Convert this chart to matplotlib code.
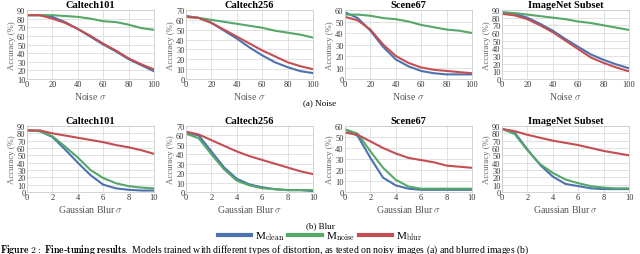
import numpy as np
import matplotlib
matplotlib.use("Agg")
import matplotlib.pyplot as plt

plt.rcParams['font.family'] = ['Liberation Serif', 'DejaVu Serif']
plt.rcParams['mathtext.fontset'] = 'cm'

noise_x = [0, 10, 20, 30, 40, 50, 60, 70, 80, 90, 100]
blur_x = [0, 1, 2, 3, 4, 5, 6, 7, 8, 9, 10]

datasets = ["Caltech101", "Caltech256", "Scene67", "ImageNet Subset"]

# noise experiments: (clean, noise, blur)
noise_clean = {
    "Caltech101": [84, 84, 82, 76, 68, 59, 50, 42, 33, 26, 19],
    "Caltech256": [64, 62, 57, 49, 41, 32, 24, 17, 12, 8, 6],
    "Scene67": [58, 53, 42, 28, 17, 11, 7, 5, 4, 4, 4],
    "ImageNet Subset": [87, 85, 80, 72, 63, 52, 42, 32, 25, 19, 14],
}
noise_noise = {
    "Caltech101": [84, 84, 84, 83, 82, 80, 77, 76, 73, 69, 67],
    "Caltech256": [63, 62, 60, 58, 56, 54, 52, 49, 47, 45, 42],
    "Scene67": [56, 56, 55, 53, 52, 50, 47, 45, 43, 42, 40],
    "ImageNet Subset": [87, 86, 84, 82, 80, 78, 75, 73, 70, 67, 64],
}
noise_blur = {
    "Caltech101": [84, 84, 80, 75, 68, 60, 51, 43, 34, 27, 21],
    "Caltech256": [63, 62, 57, 50, 43, 36, 29, 23, 17, 13, 10],
    "Scene67": [54, 51, 43, 30, 20, 14, 10, 8, 7, 6, 5],
    "ImageNet Subset": [85, 83, 78, 70, 61, 50, 39, 28, 21, 15, 10],
}

# blur experiments
blur_clean = {
    "Caltech101": [84, 83, 75, 58, 40, 23, 10, 5, 3, 2, 2],
    "Caltech256": [63, 60, 43, 26, 14, 8, 5, 3, 2, 2, 1],
    "Scene67": [57, 51, 31, 13, 6, 3, 2, 2, 2, 2, 2],
    "ImageNet Subset": [86, 81, 58, 37, 21, 11, 8, 5, 4, 4, 4],
}
blur_noise = {
    "Caltech101": [84, 83, 76, 62, 47, 30, 19, 12, 8, 6, 5],
    "Caltech256": [62, 57, 40, 24, 12, 7, 4, 3, 2, 2, 2],
    "Scene67": [57, 53, 37, 22, 11, 5, 3, 3, 3, 3, 3],
    "ImageNet Subset": [86, 79, 57, 38, 26, 17, 12, 8, 6, 5, 5],
}
blur_blur = {
    "Caltech101": [84, 84, 80, 77, 74, 71, 68, 64, 61, 57, 52],
    "Caltech256": [64, 61, 55, 49, 43, 38, 34, 30, 26, 22, 19],
    "Scene67": [54, 52, 46, 40, 35, 31, 29, 27, 24, 23, 22],
    "ImageNet Subset": [86, 83, 78, 74, 70, 67, 64, 60, 56, 53, 50],
}

noise_ylim = {"Caltech101": (10, 90), "Caltech256": (0, 70), "Scene67": (0, 60), "ImageNet Subset": (0, 90)}
blur_ylim = {"Caltech101": (0, 90), "Caltech256": (0, 70), "Scene67": (0, 60), "ImageNet Subset": (0, 90)}

colors = ["#4c72b0", "#55a868", "#c44e52"]
labels = [r"M$_{\mathrm{clean}}$", r"M$_{\mathrm{noise}}$", r"M$_{\mathrm{blur}}$"]

W, H = 640, 255
fig = plt.figure(figsize=(6.4, 2.55), dpi=100)

lefts = [27, 186, 345, 502]
width = 127


def px_axes(left, top, w, h):
    return fig.add_axes([left / W, 1 - (top + h) / H, w / W, h / H])


def style(ax, title, xlabel, ylim, xticks):
    ax.set_title(title, fontsize=7.5, fontweight='bold', pad=2)
    ax.set_xlabel(xlabel, fontsize=7, color='#555555', labelpad=1)
    ax.set_ylabel("Accuracy (%)", fontsize=6.3, color='#666666', labelpad=1)
    ax.set_ylim(*ylim)
    ax.set_yticks(np.arange(ylim[0], ylim[1] + 1, 10))
    ax.set_xticks(xticks)
    ax.set_xlim(xticks[0], xticks[-1])
    ax.grid(True, color='#dddddd', linewidth=0.6)
    ax.set_axisbelow(True)
    ax.tick_params(labelsize=6, length=0, pad=1, colors='#333333')
    for s in ax.spines.values():
        s.set_color('#cccccc')
        s.set_linewidth(0.6)


lines = []
for i, name in enumerate(datasets):
    ax = px_axes(lefts[i], 11, width, 69)
    for series, c in zip([noise_clean, noise_noise, noise_blur], colors):
        ax.plot(noise_x, series[name], color=c, linewidth=1.5)
    style(ax, name, r"Noise $\sigma$", noise_ylim[name], [0, 20, 40, 60, 80, 100])

    ax = px_axes(lefts[i], 127, width, 66)
    for series, c in zip([blur_clean, blur_noise, blur_blur], colors):
        l, = ax.plot(blur_x, series[name], color=c, linewidth=1.5)
        if i == 0:
            lines.append(l)
    style(ax, name, r"Gaussian Blur $\sigma$", blur_ylim[name], [0, 2, 4, 6, 8, 10])

fig.text(0.5, 1 - 103 / H, "(a) Noise", ha='center', va='center', fontsize=6.5)
fig.text(0.5, 1 - 226 / H, "(b) Blur", ha='center', va='center', fontsize=6.5)

fig.legend(lines, labels, loc='center', bbox_to_anchor=(0.5, 1 - 237 / H), ncol=3,
           frameon=False, fontsize=8, handlelength=3, columnspacing=0.3, handletextpad=0.4,
           borderpad=0)
for l in fig.legends[0].get_lines():
    l.set_linewidth(3)

fig.text(0.0, 1 - 250 / H, r"$\bf{Figure\ 2:\ Fine}$-$\bf{tuning\ results.}$ Models trained with different types of distortion, as tested on noisy images (a) and blurred images (b)",
         ha='left', va='center', fontsize=7)

fig.savefig("out.png", dpi=100)
